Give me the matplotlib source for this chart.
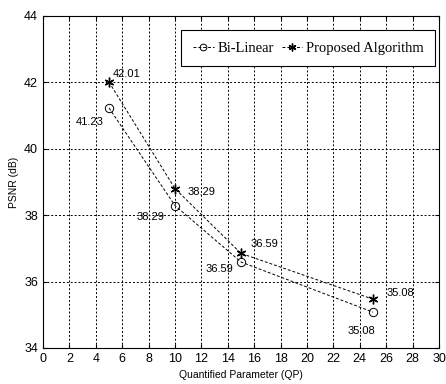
import matplotlib
matplotlib.use("Agg")
import matplotlib.pyplot as plt

qp = [5, 10, 15, 25]
bilinear = [41.23, 38.29, 36.59, 35.08]
proposed = [42.01, 38.80, 36.85, 35.47]
bilinear_labels = ["41.23", "38.29", "36.59", "35.08"]
proposed_labels = ["42.01", "38.29", "36.59", "35.08"]

# label offsets in pixels (dx, dy)
prop_off = [(4, 8), (13, -3), (10, 9), (14, 6)]
bil_off = [(-5, -14), (-11, -11), (-8, -7), (2, -19)]

plt.rcParams['font.family'] = ['Liberation Sans', 'DejaVu Sans']

fig = plt.figure(figsize=(4.46, 3.84), dpi=100)
ax = fig.add_axes([43 / 446, 36 / 384, 396 / 446, 332 / 384])

ax.plot(qp, bilinear, linestyle=(0, (3, 2)), color="black", linewidth=0.7,
        marker="o", markersize=6, markerfacecolor="none", markeredgewidth=0.7,
        label="Bi-Linear")
ax.plot(qp, proposed, linestyle=(0, (3, 2)), color="black", linewidth=0.7,
        marker=(6, 2, 0), markersize=7, markeredgewidth=1.0, label="Proposed Algorithm")

for x, y, t, o in zip(qp, proposed, proposed_labels, prop_off):
    ax.annotate(t, (x, y), xytext=o, textcoords="offset pixels",
                fontsize=8, ha="left", va="center")
for x, y, t, o in zip(qp, bilinear, bilinear_labels, bil_off):
    ax.annotate(t, (x, y), xytext=o, textcoords="offset pixels",
                fontsize=8, ha="right", va="center")

ax.set_xlim(0, 30)
ax.set_ylim(34, 44)
ax.set_xticks(range(0, 31, 2))
ax.set_yticks(range(34, 45, 2))
ax.tick_params(direction="in", top=True, right=True, labelsize=9, length=3)
ax.grid(True, linestyle=(0, (2, 2)), color="black", linewidth=0.7)
ax.set_xlabel("Quantified Parameter (QP)", fontsize=7.5, labelpad=4)
ax.set_ylabel("PSNR (dB)", fontsize=7.5, labelpad=4)

leg = ax.legend(loc="upper right", ncol=2, prop={"family": "Liberation Serif", "size": 10.5},
                frameon=True, fancybox=False, edgecolor="black", framealpha=1,
                handlelength=1.4, handletextpad=0.25, columnspacing=0.55,
                markerscale=0.8, bbox_to_anchor=(0.99, 0.958), borderpad=0.8,
                borderaxespad=0)
leg.get_frame().set_linewidth(0.8)

fig.savefig("out.png", dpi=100)
